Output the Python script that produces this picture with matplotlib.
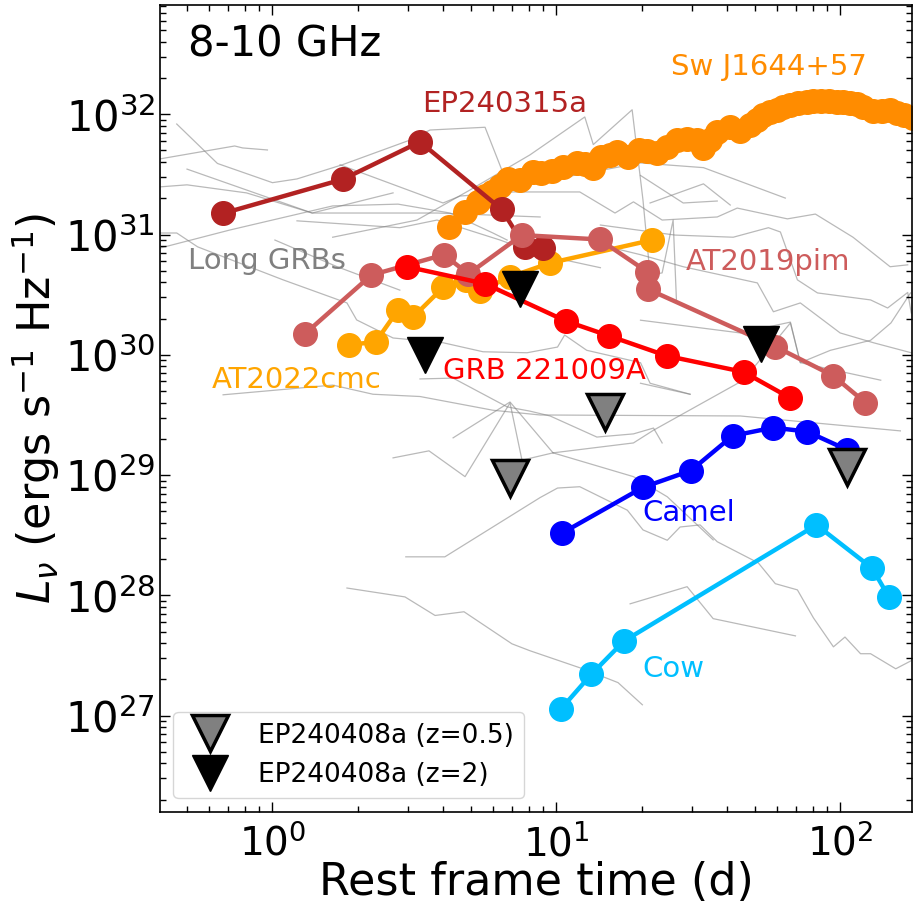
import matplotlib
matplotlib.use("Agg")
import matplotlib.pyplot as plt

# --- coloured light curves (rest frame days, erg/s/Hz) ---
ep240315a_t = [0.67, 1.77, 3.31, 6.42, 7.76, 8.96]
ep240315a_L = [1.50e31, 2.88e31, 5.9e31, 1.62e31, 7.9e30, 7.8e30]

swj1644_t = [4.19, 4.77, 5.30, 5.61, 5.94, 6.34, 6.76, 7.45, 8.28, 8.84, 9.67, 10.6,
             11.8, 12.6, 13.5, 14.4, 15.5, 16.4, 17.9, 19.6, 20.9, 22.7, 24.6, 26.7,
             28.9, 31.4, 33.0, 34.9, 36.9, 41.0, 44.5, 48.3, 51.1, 53.6, 56.8, 60.1,
             63.1, 66.8, 71.3, 76.7, 80.5, 85.3, 91.0, 97.8, 102.7, 108.7, 115.1,
             120.8, 131.0, 141.0, 150.4, 158.0, 167.2, 179.9]
swj1644_L = [1.16e31, 1.54e31, 1.87e31, 2.09e31, 2.26e31, 2.54e31, 2.90e31, 2.84e31,
             3.31e31, 3.25e31, 3.38e31, 3.65e31, 3.94e31, 3.86e31, 3.58e31, 4.42e31,
             4.59e31, 4.86e31, 4.42e31, 5.05e31, 4.95e31, 4.77e31, 5.35e31, 6.11e31,
             6.23e31, 6.11e31, 5.25e31, 6.11e31, 7.13e31, 7.84e31, 7.26e31, 8.15e31,
             8.97e31, 9.87e31, 1.045e32, 1.086e32, 1.15e32, 1.19e32, 1.24e32, 1.27e32,
             1.29e32, 1.29e32, 1.29e32, 1.27e32, 1.27e32, 1.24e32, 1.22e32, 1.15e32,
             1.065e32, 1.065e32, 1.086e32, 1.026e32, 9.87e31, 9.3e31]

at2019pim_t = [1.30, 2.23, 4.02, 4.90, 7.56, 14.2, 20.9, 21.1, 59.1, 94.5, 122.8]
at2019pim_L = [1.49e30, 4.6e30, 6.8e30, 4.7e30, 9.9e30, 9.1e30, 4.9e30, 3.5e30,
               1.17e30, 6.7e29, 4.0e29]

grb221009a_t = [2.98, 5.61, 10.8, 15.3, 24.5, 45.7, 66.4]
grb221009a_L = [5.4e30, 3.9e30, 1.91e30, 1.44e30, 9.8e29, 7.2e29, 4.4e29]

at2022cmc_t = [1.86, 2.31, 2.77, 3.13, 4.0, 4.81, 5.39, 6.87, 9.51, 21.7]
at2022cmc_L = [1.21e30, 1.28e30, 2.36e30, 2.06e30, 3.65e30, 4.2e30, 3.4e30,
               4.45e30, 5.8e30, 9.0e30]

camel_t = [10.5, 20.2, 29.8, 41.8, 58.0, 76.5, 105.9]
camel_L = [3.3e28, 7.9e28, 1.09e29, 2.12e29, 2.48e29, 2.30e29, 1.62e29]

cow_t = [10.4, 13.3, 17.3, 82.5, 129.7, 148.4]
cow_L = [1.14e27, 2.21e27, 4.16e27, 3.85e28, 1.68e28, 9.7e27]

# EP240408a upper limits
ep240408a_z05_t = [6.89, 14.9, 105.5]
ep240408a_z05_L = [9.5e28, 3.37e29, 1.17e29]
ep240408a_z2_t = [3.45, 7.43, 52.8]
ep240408a_z2_L = [1.0e30, 3.53e30, 1.23e30]

# --- long GRB sample (grey) ---
grb_01 = ([0.46, 0.64, 1.0, 1.22, 1.76, 3.05, 3.59, 5.61, 6.49, 7.27],
          [8.3e31, 3.9e31, 2.7e31, 2.9e31, 3.8e31, 6.1e31, 7.4e31, 7.8e31, 3.25e31, 2.44e31])
grb_02 = ([0.40, 0.736, 0.785, 0.96], [4.25e31, 5.45e31, 5.25e31, 5.05e31])
grb_03 = ([0.50, 1.38, 2.66], [3.5e31, 1.51e31, 2.22e31])
grb_04 = ([0.40, 0.50, 0.81, 1.38, 3.80, 8.77],
          [2.49e31, 2.59e31, 2.22e31, 1.51e31, 1.51e31, 1.40e31])
grb_05 = ([1.73, 3.99, 4.58, 7.04, 12.1, 16.1, 18.7, 23.6, 36.9, 43.4, 65.2, 81.8, 111, 150, 173],
          [3.8e31, 1.83e31, 2.09e31, 2.26e31, 2.26e31, 1.51e31, 1.87e31, 1.32e31, 1.40e31,
           1.66e31, 1.35e31, 1.48e31, 9.5e30, 5.4e30, 5.6e30])
grb_06 = ([0.40, 0.46, 0.545, 1.09, 1.83, 1.98, 2.66, 3.99, 5.52, 7.89, 10.1, 10.7, 12.8,
           19.8, 21.4, 29.6],
          [1.03e31, 1.03e31, 7.9e30, 4.2e30, 2.7e30, 1.95e30, 1.38e30, 1.26e30, 1.06e30,
           1.04e30, 1.16e30, 1.46e30, 1.09e30, 8.6e29, 5.8e29, 4.7e29])
grb_07 = ([0.40, 0.707, 1.63, 2.77, 4.22, 5.98, 6.71],
          [7.7e30, 1.09e31, 1.73e31, 1.79e31, 1.51e31, 1.03e31, 9.0e30])
grb_08 = ([1.22, 2.81, 3.80, 6.34, 8.77, 14.3],
          [1.30e31, 1.14e31, 1.32e31, 9.0e30, 6.8e30, 5.3e30])
grb_09 = ([1.63, 3.23, 4.97, 8.08, 12.6, 13.5, 18.5, 20.2, 21.4, 23.6, 25.8, 26.5],
          [9.5e30, 1.32e31, 2.35e31, 4.6e31, 9.5e31, 5.6e31, 1.09e32, 1.94e31, 4.6e30,
           4.8e30, 1.32e31, 2.86e30])
grb_10 = ([19.8, 28.0, 36.9], [3.1e31, 1.83e31, 1.90e31])
grb_11 = ([21.4, 33.0, 41.0], [1.83e31, 2.64e31, 1.76e31])
grb_12 = ([14.3, 26.2, 42.0, 55.9, 61.6, 70.7, 83.2, 128, 147, 173, 178],
          [1.20e31, 9.9e30, 9.5e30, 1.14e31, 1.05e31, 4.2e30, 3.27e30, 2.86e30, 2.45e30,
           3.3e30, 2.23e30])
grb_13 = ([14.3, 19.8, 28.0, 51.1, 58.2, 72.4, 100, 131, 178],
          [8.2e30, 6.8e30, 5.4e30, 3.96e30, 2.28e30, 2.7e30, 1.52e30, 1.26e30, 1.04e30])
grb_14 = ([19.8, 44.5, 66.8, 72.4, 139], [1.94e30, 1.52e30, 1.87e30, 8.6e29, 6.15e29])
grb_15 = ([19.8, 29.6], [5.8e29, 4.7e29])
grb_16 = ([9.74, 18.7, 22.0, 45.6, 66.8, 72.4, 92.4, 128, 151, 177],
          [1.53e29, 1.85e29, 2.36e29, 6.15e29, 1.84e30, 8.6e29, 1.09e30, 1.32e30, 1.84e30,
           3.27e30])
grb_17 = ([0.67, 1.63, 2.26, 3.31, 5.98, 8.77, 44.5, 163],
          [4.65e29, 5.6e29, 4.7e29, 4.5e29, 3.46e29, 3.16e29, 3.1e29, 2.33e29])
grb_18 = ([3.31, 4.33, 6.71, 8.08, 9.51, 13.9, 18.7, 22.0, 23.6],
          [6.3e29, 6.4e29, 3.69e29, 3.4e29, 3.1e29, 2.07e29, 2.2e29, 2.46e29, 1.85e29])
grb_19 = ([2.66, 3.56, 4.77, 6.87, 7.57, 9.74],
          [1.39e29, 1.59e29, 9.7e28, 3.98e29, 1.33e29, 1.53e29])
grb_20 = ([4.33, 6.87, 7.27, 9.74, 18.7, 24.6, 35.7],
          [2.04e29, 4.05e29, 3.46e29, 1.53e29, 9.7e28, 6.6e28, 2.89e28])
grb_21 = ([2.95, 4.05, 8.77, 10.1, 12.1, 17.8, 20.2, 24.6, 27.3, 32.1, 36.9, 51.5, 59.1,
           70.7, 80.5, 94.7, 104, 118, 128, 157, 178],
          [2.09e28, 2.09e28, 6.5e28, 7.8e28, 8.0e28, 5.1e28, 3.5e28, 2.87e28, 3.7e28, 3.85e28,
           2.79e28, 1.86e28, 1.25e28, 1.11e28, 6.5e27, 3.73e27, 4.5e27, 3.27e27, 3.27e27,
           2.45e27, 2.86e27])
grb_22 = ([1.83, 2.93, 3.74, 4.73, 6.98, 8.08, 12.4, 16.5, 20.1],
          [1.15e28, 9.7e27, 6.8e27, 7.3e27, 3.95e27, 3.46e27, 2.45e27, 1.88e27, 1.23e27])
grb_23 = ([18.2, 28.9, 35.7, 69.6], [8.5e27, 1.18e28, 6.4e27, 4.6e27])
grb_24 = ([10.3, 19.8, 33.0, 64.1], [2.95e31, 3.94e31, 3.6e31, 2.01e31])
grb_25 = ([1.02, 1.69, 2.81], [9.0e30, 5.4e30, 3.45e30])

long_grbs = [grb_01, grb_02, grb_03, grb_04, grb_05, grb_06, grb_07, grb_08, grb_09,
             grb_10, grb_11, grb_12, grb_13, grb_14, grb_15, grb_16, grb_17, grb_18,
             grb_19, grb_20, grb_21, grb_22, grb_23, grb_24, grb_25]

fig = plt.figure(figsize=(9.15, 9.14), dpi=100)
ax = fig.add_axes([0.175, 0.112, 0.822, 0.8825])

for t, L in long_grbs:
    ax.plot(t, L, color='gray', alpha=0.55, lw=0.9, zorder=1)

ms, lw = 17, 3.2
ax.plot(swj1644_t, swj1644_L, 'o-', color='darkorange', ms=ms, lw=lw, zorder=2)
ax.plot(at2022cmc_t, at2022cmc_L, 'o-', color='orange', ms=ms, lw=lw, zorder=3)
ax.plot(ep240315a_t, ep240315a_L, 'o-', color='firebrick', ms=ms, lw=lw, zorder=4)
ax.plot(at2019pim_t, at2019pim_L, 'o-', color='indianred', ms=ms, lw=lw, zorder=5)
ax.plot(grb221009a_t, grb221009a_L, 'o-', color='red', ms=ms, lw=lw, zorder=6)
ax.plot(camel_t, camel_L, 'o-', color='blue', ms=ms, lw=lw, zorder=7)
ax.plot(cow_t, cow_L, 'o-', color='deepskyblue', ms=ms, lw=lw, zorder=8)

ax.plot(ep240408a_z05_t, ep240408a_z05_L, 'v', color='gray', mec='black', mew=2.5,
        ms=26, ls='none', zorder=10, label='EP240408a (z=0.5)')
ax.plot(ep240408a_z2_t, ep240408a_z2_L, 'v', color='black', mec='black',
        ms=26, ls='none', zorder=10, label='EP240408a (z=2)')

# labels for each transient
lab_fs = 21
ax.text(6.55, 1.22e32, 'EP240315a', color='firebrick', fontsize=lab_fs, ha='center', va='center')
ax.text(55.9, 2.47e32, 'Sw J1644+57', color='darkorange', fontsize=lab_fs, ha='center', va='center')
ax.text(0.96, 6.0e30, 'Long GRBs', color='gray', fontsize=lab_fs, ha='center', va='center')
ax.text(55.9, 5.9e30, 'AT2019pim', color='indianred', fontsize=lab_fs, ha='center', va='center')
ax.text(1.22, 6.2e29, 'AT2022cmc', color='orange', fontsize=lab_fs, ha='center', va='center')
ax.text(9.06, 7.35e29, 'GRB 221009A', color='red', fontsize=lab_fs, ha='center', va='center')
ax.text(29.4, 4.85e28, 'Camel', color='blue', fontsize=lab_fs, ha='center', va='center')
ax.text(25.8, 2.45e27, 'Cow', color='deepskyblue', fontsize=lab_fs, ha='center', va='center')
ax.text(0.037, 0.951, '8-10 GHz', transform=ax.transAxes, fontsize=30, va='center')

ax.set_xscale('log')
ax.set_yscale('log')
ax.set_xlim(0.402, 179.5)
ax.set_ylim(1.59e26, 8.1e32)
ax.set_xlabel('Rest frame time (d)', fontsize=32, labelpad=-2)
ax.set_ylabel(r'$L_{\nu}$ (ergs s$^{-1}$ Hz$^{-1}$)', fontsize=32, labelpad=2)
ax.tick_params(which='both', direction='in', top=True, right=True)
ax.tick_params(axis='x', which='major', pad=9, labelsize=28)
ax.tick_params(axis='y', which='major', labelsize=30)
ax.tick_params(which='major', length=7, width=1)
ax.tick_params(which='minor', length=4.5, width=1)
for s in ax.spines.values():
    s.set_linewidth(1.2)

ax.legend(loc='lower left', fontsize=19)

fig.savefig('out.png', dpi=100)
